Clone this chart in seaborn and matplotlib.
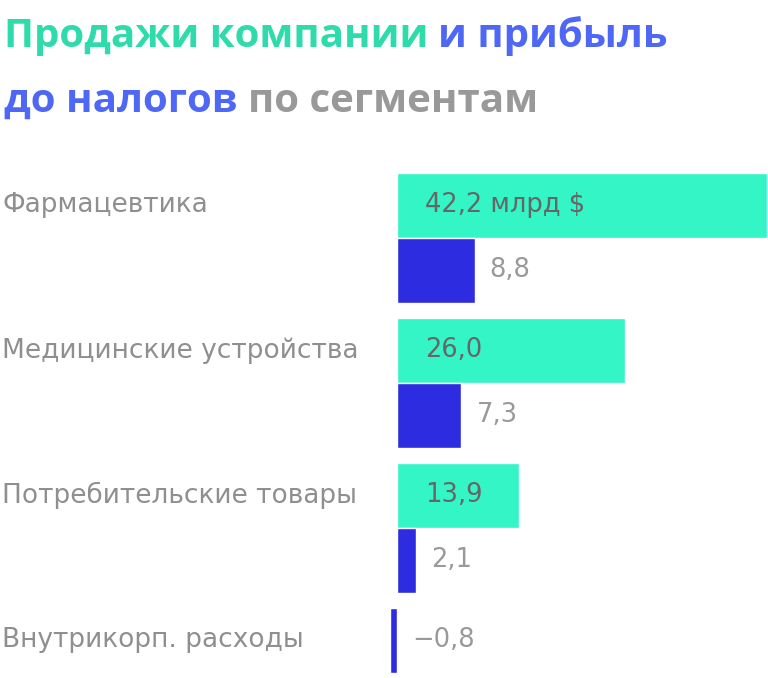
import numpy as np
import pandas as pd
import matplotlib
matplotlib.use("Agg")
import matplotlib.pyplot as plt
import seaborn as sns

# data
segments = ['Фармацевтика', 'Медицинские устройства', 'Потребительские товары', 'Внутрикорп. расходы']
sales = [42.2, 26.0, 13.9, None]
profit = [8.8, 7.3, 2.1, -0.8]

sales_color = '#33F5C6'
profit_color = '#2E2CE0'

sns.set_style('white')
plt.rcParams['font.family'] = ['DejaVu Sans']

# one bar slot per row, groups separated by a small gap
pitch = 145 / 65
rows = []
label_pos = []
for i, seg in enumerate(segments):
    slot = i * pitch
    label_pos.append(slot)
    if sales[i] is not None:
        rows.append({'segment': seg, 'series': 'Продажи', 'value': sales[i], 'pos': slot})
        slot += 1
    rows.append({'segment': seg, 'series': 'Прибыль', 'value': profit[i], 'pos': slot})
df = pd.DataFrame(rows)

fig = plt.figure(figsize=(7.68, 6.78), dpi=100)
ax = fig.add_axes([0, 0, 1, 518 / 678])

sns.barplot(data=df, x='value', y='pos', hue='series', orient='y', native_scale=True,
            dodge=False, width=1, errorbar=None, legend=False, saturation=1,
            palette={'Продажи': sales_color, 'Прибыль': profit_color}, ax=ax)

ax.set_xlim(-45.37, 42.3)
ax.set_ylim(7.27, -0.7)
ax.axis('off')

def fmt(v):
    s = f"{abs(v):.1f}".replace('.', ',')
    return ('−' + s) if v < 0 else s

for _, r in df.iterrows():
    if r['series'] == 'Продажи':
        txt = fmt(r['value'])
        if r['pos'] == 0:
            txt += ' млрд $'
        ax.annotate(txt, xy=(0, r['pos']), xytext=(28, 0), textcoords='offset pixels',
                    va='center', ha='left', fontsize=18.5, color='#666666')
    else:
        ax.annotate(fmt(r['value']), xy=(max(r['value'], 0), r['pos']), xytext=(15, 0),
                    textcoords='offset pixels', va='center', ha='left', fontsize=18.5, color='#999999')

for seg, p in zip(segments, label_pos):
    ax.text(0.003, p, seg, transform=ax.get_yaxis_transform(), va='center', ha='left',
            fontsize=19, color='#8F8F8F')

# title built from coloured pieces
title_lines = [
    [('Продажи компании', '#2EDBAA'), ('и прибыль', '#4E67F5')],
    [('до налогов', '#4E67F5'), ('по сегментам', '#999999')],
]
baselines = [47, 112]
for line, yb in zip(title_lines, baselines):
    prev = None
    for txt, col in line:
        if prev is None:
            prev = fig.text(4 / 768, 1 - yb / 678, txt, color=col, fontsize=29,
                            family='Open Sans', fontweight='bold', va='baseline', ha='left')
        else:
            prev = ax.annotate(txt, xy=(1, 0), xycoords=prev, xytext=(10, 0),
                               textcoords='offset pixels', color=col, fontsize=29,
                               family='Open Sans', fontweight='bold', va='bottom', ha='left',
                               annotation_clip=False)

fig.savefig('out.png', dpi=100)
